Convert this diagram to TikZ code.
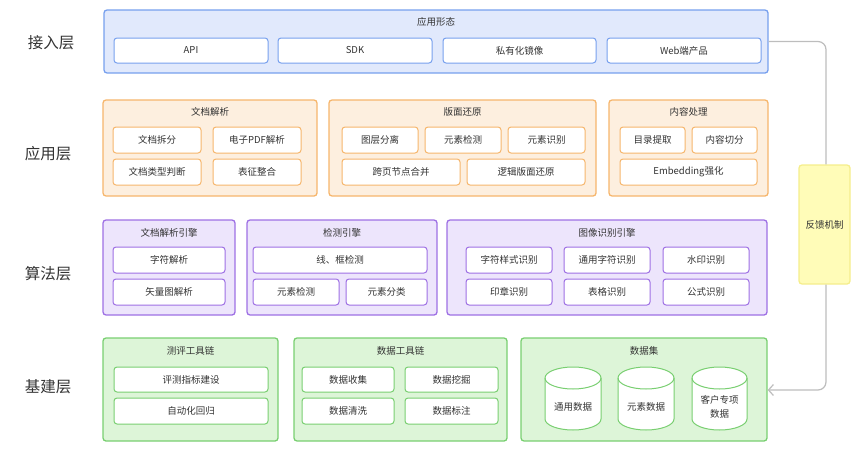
\documentclass[tikz,border=0pt]{standalone}
\usepackage{fontspec}
\setmainfont{Noto Sans CJK SC}
\usetikzlibrary{arrows.meta}
\definecolor{txt}{HTML}{333333}
\definecolor{bline}{HTML}{77A0EE}
\definecolor{bfill}{HTML}{E1E9FC}
\definecolor{oline}{HTML}{F6B66C}
\definecolor{ofill}{HTML}{FDEFDF}
\definecolor{pline}{HTML}{9E70E4}
\definecolor{pfill}{HTML}{EDE5FC}
\definecolor{gline}{HTML}{79CF71}
\definecolor{gfill}{HTML}{DDF5D8}
\definecolor{yline}{HTML}{F5EE8C}
\definecolor{yfill}{HTML}{FFFCB8}
\definecolor{conn}{HTML}{BDBDBD}
\newcommand{\RB}[7]{\node[#1,minimum width={#4-#2},minimum height={#5-#3}] (#6) at ({(#2+#4)/2},{(#3+#5)/2}) {#7};}
\tikzset{
  base/.style={rounded corners=3pt, inner sep=0pt, text=txt, font=\fontsize{9.5}{11}\selectfont},
  bo/.style={base, draw=bline, fill=bfill, line width=1.3pt},
  bi/.style={base, draw=bline, fill=white, line width=1pt},
  oo/.style={base, draw=oline, fill=ofill, line width=1.3pt},
  oi/.style={base, draw=oline, fill=white, line width=1pt},
  po/.style={base, draw=pline, fill=pfill, line width=1.3pt},
  pi/.style={base, draw=pline, fill=white, line width=1pt},
  go/.style={base, draw=gline, fill=gfill, line width=1.3pt},
  gi/.style={base, draw=gline, fill=white, line width=1pt},
  yo/.style={base, draw=yline, fill=yfill, line width=1.3pt},
  ttl/.style={text=txt, font=\fontsize{9.5}{11}\selectfont, inner sep=0pt},
  layer/.style={text=txt, font=\fontsize{15.5}{18}\selectfont, inner sep=0pt},
  cyl/.style={draw=gline, fill=white, line width=1pt},
  cn/.style={draw=conn, line width=1.2pt, rounded corners=8pt}
}
\begin{document}
\begin{tikzpicture}[x=1pt,y=-1pt]
\useasboundingbox (0,0) rectangle (865,463);
% layer labels
\node[layer] (L1) at (51,43) {接入层};
\node[layer] (L2) at (48,154) {应用层};
\node[layer] (L3) at (48,274) {算法层};
\node[layer] (L4) at (48,387) {基建层};
% access layer
\RB{bo}{104}{10}{768}{73}{acc}{}
\node[ttl] (acct) at (436,22) {应用形态};
\RB{bi}{114}{38}{268}{63}{api}{API}
\RB{bi}{278}{38}{432}{63}{sdk}{SDK}
\RB{bi}{443}{38}{596}{63}{priv}{私有化镜像}
\RB{bi}{607}{38}{761}{63}{web}{Web端产品}
% application layer
\RB{oo}{103}{100}{317}{196}{docp}{}
\node[ttl] (docpt) at (210,112) {文档解析};
\RB{oi}{113}{127}{201}{153}{a1}{文档拆分}
\RB{oi}{213}{127}{301}{153}{a2}{电子PDF解析}
\RB{oi}{113}{159}{201}{185}{a3}{文档类型判断}
\RB{oi}{213}{159}{301}{185}{a4}{表征整合}
\RB{oo}{329}{100}{596}{196}{lay}{}
\node[ttl] (layt) at (462.5,112) {版面还原};
\RB{oi}{342}{127}{418}{153}{b1}{图层分离}
\RB{oi}{425}{127}{501}{153}{b2}{元素检测}
\RB{oi}{508}{127}{585}{153}{b3}{元素识别}
\RB{oi}{342}{159}{460}{185}{b4}{跨页节点合并}
\RB{oi}{467}{159}{585}{185}{b5}{逻辑版面还原}
\RB{oo}{609}{100}{768}{196}{cont}{}
\node[ttl] (contt) at (688.5,112) {内容处理};
\RB{oi}{620}{127}{685}{153}{c1}{目录提取}
\RB{oi}{692}{127}{757}{153}{c2}{内容切分}
\RB{oi}{620}{159}{757}{185}{c3}{Embedding强化}
% algorithm layer
\RB{po}{103}{220}{235}{315}{eng1}{}
\node[ttl] (eng1t) at (169,233) {文档解析引擎};
\RB{pi}{113}{247}{225}{273}{d1}{字符解析}
\RB{pi}{113}{279}{225}{305}{d2}{矢量图解析}
\RB{po}{247}{220}{437}{315}{eng2}{}
\node[ttl] (eng2t) at (342,233) {检测引擎};
\RB{pi}{253}{247}{427}{273}{e1}{线、框检测}
\RB{pi}{253}{279}{339}{305}{e2}{元素检测}
\RB{pi}{346}{279}{427}{305}{e3}{元素分类}
\RB{po}{447}{220}{767}{315}{eng3}{}
\node[ttl] (eng3t) at (607,233) {图像识别引擎};
\RB{pi}{466}{247}{552}{273}{f1}{字符样式识别}
\RB{pi}{564}{247}{650}{273}{f2}{通用字符识别}
\RB{pi}{663}{247}{749}{273}{f3}{水印识别}
\RB{pi}{466}{279}{552}{305}{f4}{印章识别}
\RB{pi}{564}{279}{650}{305}{f5}{表格识别}
\RB{pi}{663}{279}{749}{305}{f6}{公式识别}
% infrastructure layer
\RB{go}{103}{338}{278}{441}{eval}{}
\node[ttl] (evalt) at (190.5,351) {测评工具链};
\RB{gi}{114}{367}{268}{392}{g1}{评测指标建设}
\RB{gi}{114}{398}{268}{424}{g2}{自动化回归}
\RB{go}{294}{338}{507}{441}{dtool}{}
\node[ttl] (dtoolt) at (400.5,351) {数据工具链};
\RB{gi}{302}{367}{394}{392}{h1}{数据收集}
\RB{gi}{405}{367}{498}{392}{h2}{数据挖掘}
\RB{gi}{302}{398}{394}{424}{h3}{数据清洗}
\RB{gi}{405}{398}{498}{424}{h4}{数据标注}
\RB{go}{521}{338}{767}{441}{dset}{}
\node[ttl] (dsett) at (644,351) {数据集};
% cylinders
\foreach \a/\b in {545/601,618/674,692/747}{
  \pgfmathsetmacro{\rx}{(\b-\a)/2}
  \draw[cyl] (\a,378) -- (\a,419) arc[start angle=180,end angle=360,x radius=\rx pt,y radius=11pt]
     -- (\b,378) arc[start angle=0,end angle=180,x radius=\rx pt,y radius=11pt] -- cycle;
  \draw[cyl, fill=none] (\a,378) arc[start angle=180,end angle=360,x radius=\rx pt,y radius=11pt];
}
\node[ttl] (k1) at (573,407) {通用数据};
\node[ttl] (k2) at (646,407) {元素数据};
\node[ttl, align=center, font=\fontsize{9.5}{14}\selectfont] (k3) at (719.5,407) {客户专项\\数据};
% feedback
\RB{yo}{799}{165}{850}{284}{fb}{反馈机制}
\coordinate (fbtop) at (826,41.5);
\coordinate (fbend) at (826,390);
\draw[cn] (acc.east) -- (fbtop) -- (fb.north -| fbtop);
\draw[cn, -{Straight Barb[length=5pt,width=11pt]}] (fb.south -| fbend) -- (fbend) -- (dset.east |- fbend);
\end{tikzpicture}
\end{document}
